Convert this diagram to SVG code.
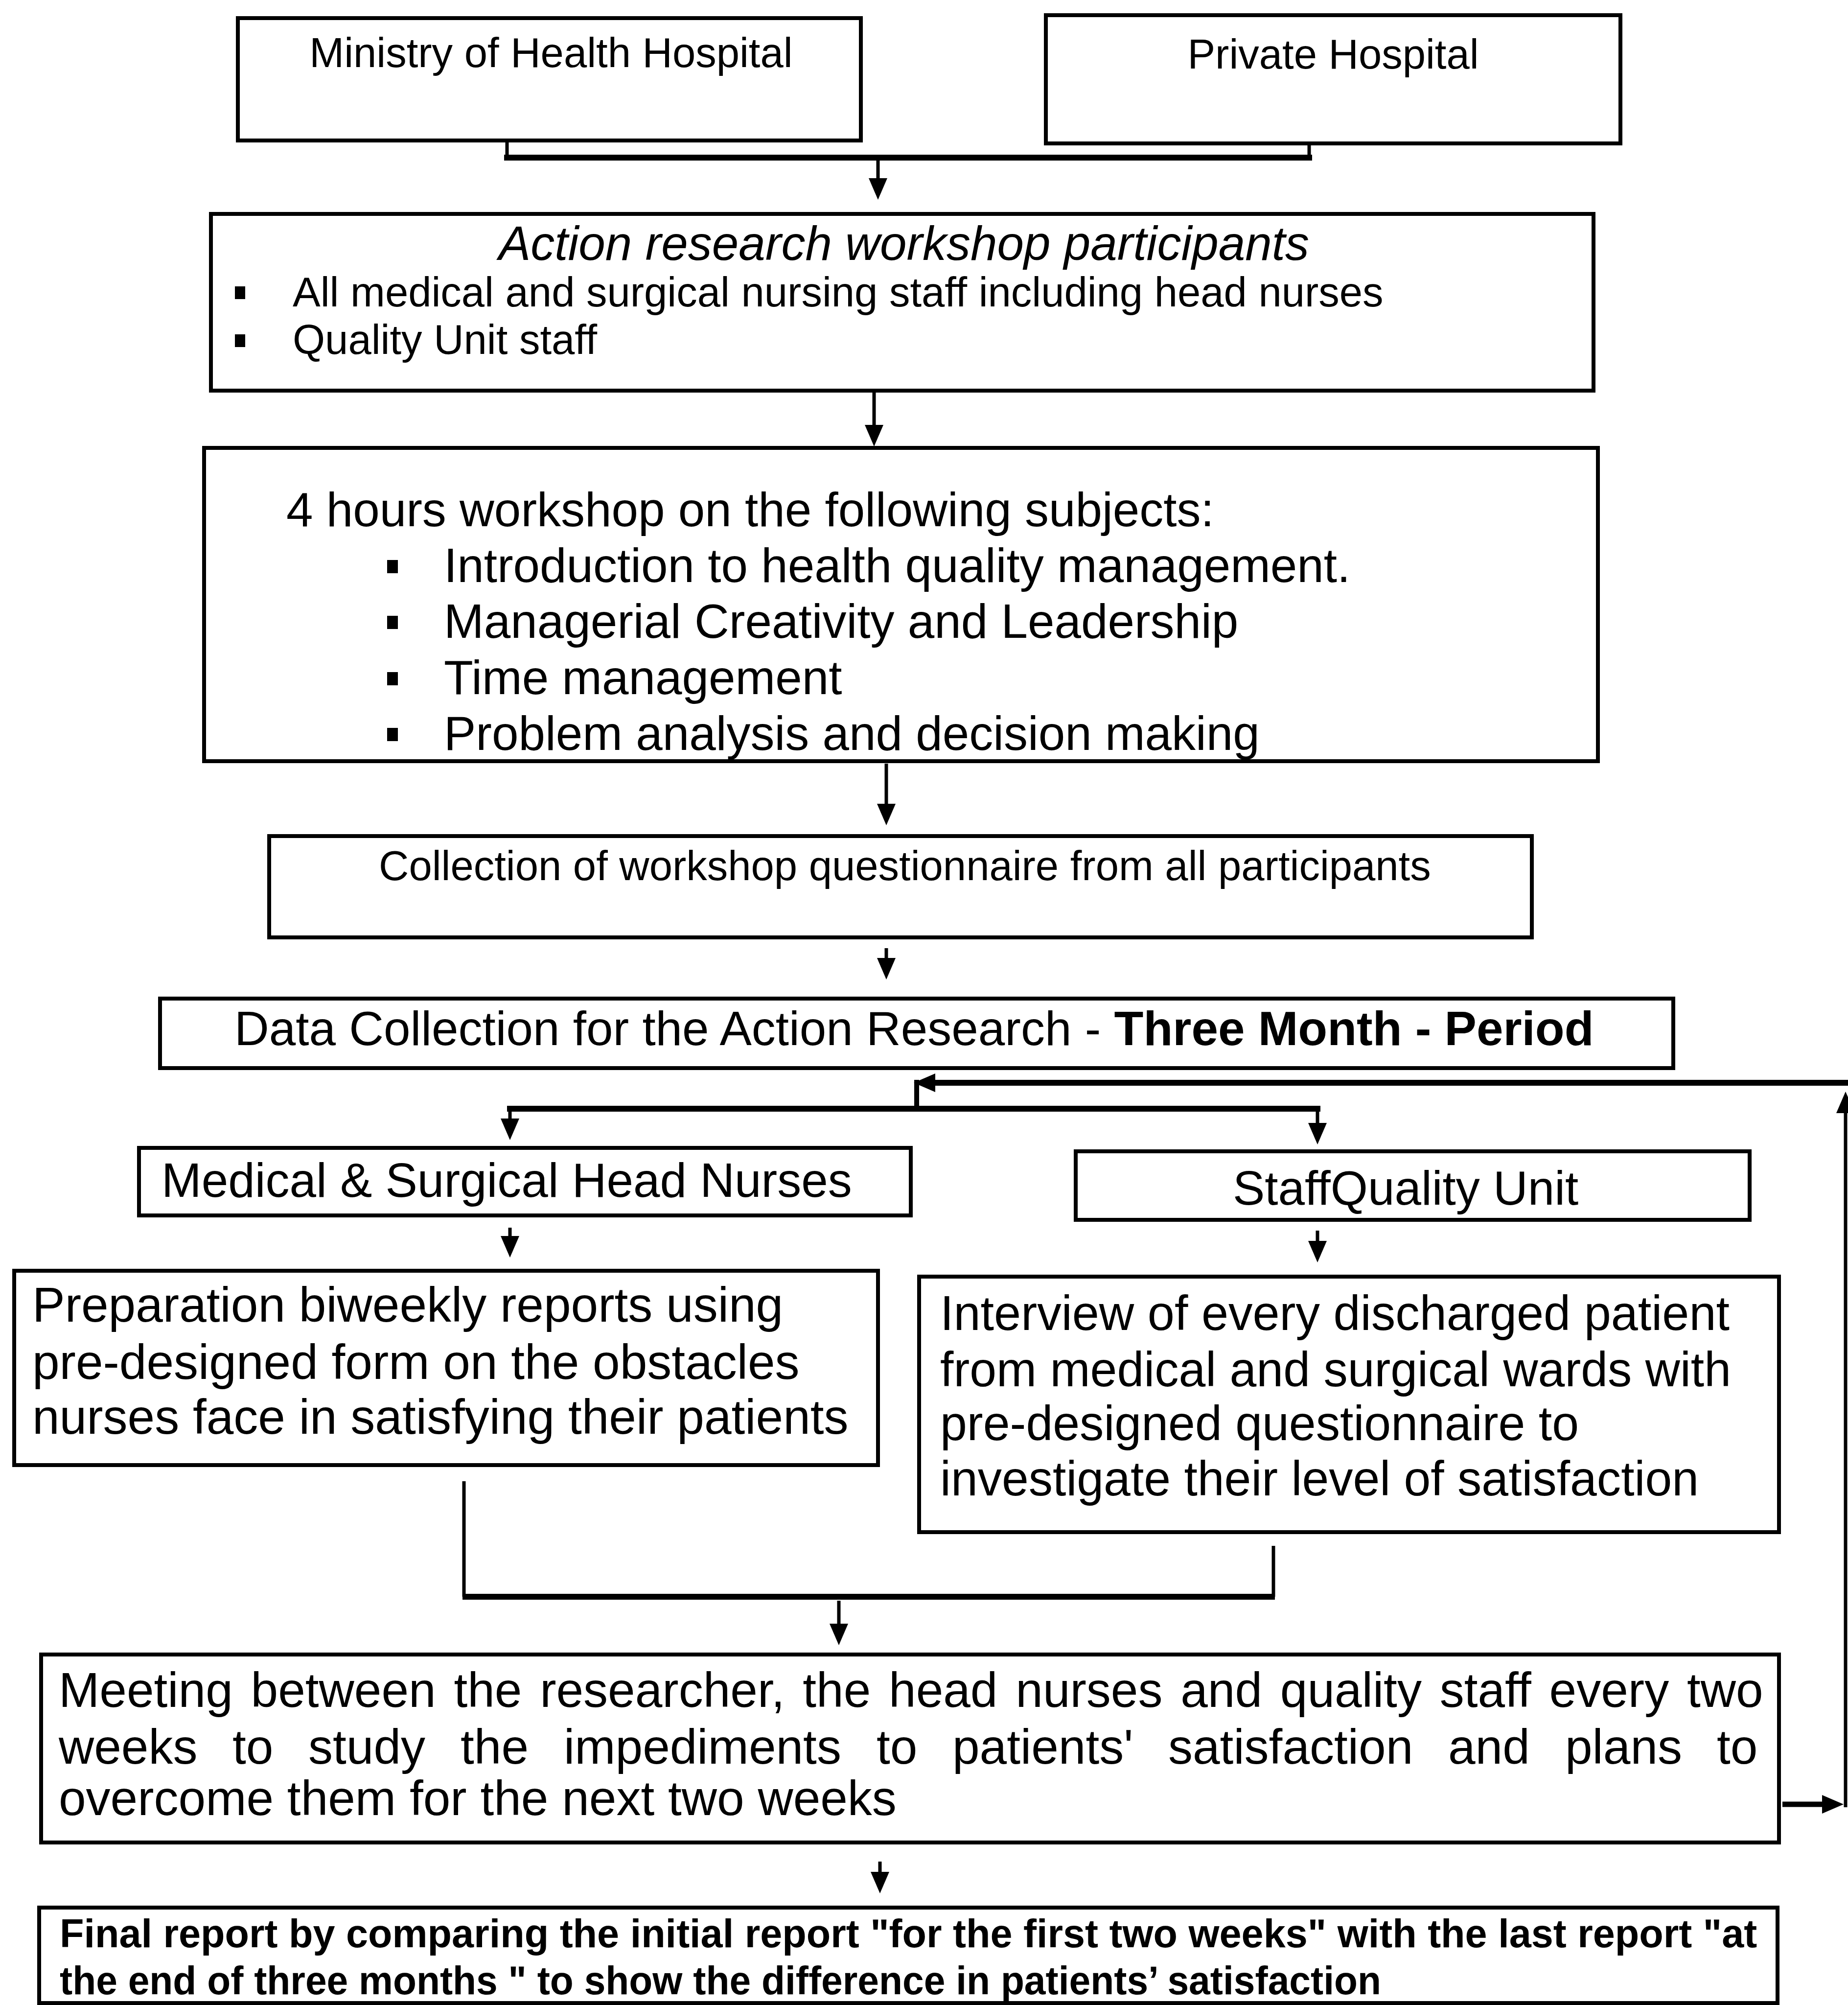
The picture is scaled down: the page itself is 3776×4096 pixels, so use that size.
<svg xmlns="http://www.w3.org/2000/svg" width="3776" height="4096" viewBox="0 0 3776 4096">
<style>
.bg{fill:#fff}
.box{fill:none;stroke:#000;stroke-width:8}
.t{font-family:"Liberation Sans",Arial,Helvetica,sans-serif;fill:#000}
.s85{font-size:85px}
.s98{font-size:98px}
.s100{font-size:100px}
.fb{font-size:81px;font-weight:bold}
.bul{fill:#000}
.v{fill:none;stroke:#000;stroke-width:7}
.h{fill:none;stroke:#000;stroke-width:12}
</style>
<defs>
<marker id="ah" markerUnits="userSpaceOnUse" markerWidth="44" markerHeight="38" refX="24" refY="19" orient="auto" overflow="visible">
<path d="M0,0 L44,19 L0,38 z" fill="#000"/>
</marker>
</defs>
<rect class="bg" x="0" y="0" width="3776" height="4096"/>

<g id="connectors">
<path class="v" d="M1036,287 V322"/>
<path class="v" d="M2675,293 V322"/>
<path class="h" d="M1030,322 H2681"/>
<path class="v" d="M1794,322 V388" marker-end="url(#ah)"/>
<path class="v" d="M1786,798 V892" marker-end="url(#ah)"/>
<path class="v" d="M1811,1560 V1666" marker-end="url(#ah)"/>
<path class="v" d="M1811,1937 V1981" marker-end="url(#ah)"/>
<path class="h" d="M3776,2212 H1887" marker-end="url(#ah)"/>
<path class="v" style="stroke-width:10" d="M1873,2206 V2265"/>
<path class="h" d="M1036,2265 H2698"/>
<path class="v" d="M1042,2265 V2309" marker-end="url(#ah)"/>
<path class="v" d="M2692,2265 V2318" marker-end="url(#ah)"/>
<path class="v" d="M1042,2508 V2549" marker-end="url(#ah)"/>
<path class="v" d="M2692,2514 V2559" marker-end="url(#ah)"/>
<path class="v" d="M948,3026 V3262"/>
<path class="v" d="M2602,3158 V3262"/>
<path class="h" d="M945,3262 H2605"/>
<path class="v" d="M1714,3270 V3341" marker-end="url(#ah)"/>
<path class="v" d="M1798,3803 V3848" marker-end="url(#ah)"/>
<path class="h" style="stroke-width:11" d="M3642,3686 H3747" marker-end="url(#ah)"/>
<path class="v" d="M3771,3692 V2250" marker-end="url(#ah)"/>
</g>

<g id="ministry">
<rect class="box" x="486" y="37" width="1273" height="250"/>
<text class="t s85" x="1126" y="137" text-anchor="middle">Ministry of Health Hospital</text>
</g>

<g id="private">
<rect class="box" x="2137" y="31" width="1174" height="262"/>
<text class="t s85" x="2724" y="140" text-anchor="middle">Private Hospital</text>
</g>

<g id="participants">
<rect class="box" x="431" y="437" width="2825" height="361"/>
<text class="t s98" x="1019" y="531" font-style="italic">Action research workshop participants</text>
<rect class="bul" x="480" y="585" width="21" height="26"/>
<text class="t s85" x="598" y="626">All medical and surgical nursing staff including head nurses</text>
<rect class="bul" x="480" y="683" width="21" height="26"/>
<text class="t s85" x="598" y="723">Quality Unit staff</text>
</g>

<g id="workshop">
<rect class="box" x="417" y="915" width="2848" height="640"/>
<text class="t s98" x="585" y="1075">4 hours workshop on the following subjects:</text>
<rect class="bul" x="791" y="1144" width="22" height="27"/>
<text class="t s98" x="907" y="1189">Introduction to health quality management.</text>
<rect class="bul" x="791" y="1258" width="22" height="27"/>
<text class="t s98" x="907" y="1303">Managerial Creativity and Leadership</text>
<rect class="bul" x="791" y="1373" width="22" height="27"/>
<text class="t s98" x="907" y="1418">Time management</text>
<rect class="bul" x="791" y="1487" width="22" height="27"/>
<text class="t s98" x="907" y="1532">Problem analysis and decision making</text>
</g>

<g id="questionnaire">
<rect class="box" x="550" y="1708" width="2580" height="207"/>
<text class="t s85" x="774" y="1798">Collection of workshop questionnaire from all participants</text>
</g>

<g id="datacollection">
<rect class="box" x="327" y="2040" width="3092" height="142"/>
<text class="t s98" x="479" y="2135">Data Collection for the Action Research - <tspan font-weight="bold">Three Month - Period</tspan></text>
</g>

<g id="headnurses">
<rect class="box" x="284" y="2345" width="1577" height="138"/>
<text class="t s98" x="330" y="2445">Medical &amp; Surgical Head Nurses</text>
</g>

<g id="qualityunit">
<rect class="box" x="2198" y="2352" width="1377" height="140"/>
<text class="t s98" x="2519" y="2461">StaffQuality Unit</text>
</g>

<g id="reports">
<rect class="box" x="29" y="2596" width="1765" height="397"/>
<text class="t s100" x="66" y="2700">Preparation biweekly reports using</text>
<text class="t s100" x="66" y="2817">pre-designed form on the obstacles</text>
<text class="t s100" x="66" y="2929">nurses face in satisfying their patients</text>
</g>

<g id="interview">
<rect class="box" x="1878" y="2608" width="1757" height="522"/>
<text class="t s100" x="1921" y="2717" textLength="1613" lengthAdjust="spacingAndGlyphs">Interview of every discharged patient</text>
<text class="t s100" x="1921" y="2832" textLength="1616" lengthAdjust="spacingAndGlyphs">from medical and surgical wards with</text>
<text class="t s100" x="1921" y="2942" textLength="1305" lengthAdjust="spacingAndGlyphs">pre-designed questionnaire to</text>
<text class="t s100" x="1921" y="3055" textLength="1550" lengthAdjust="spacingAndGlyphs">investigate their level of satisfaction</text>
</g>

<g id="meeting">
<rect class="box" x="84" y="3380" width="3551" height="384"/>
<text class="t s100" x="120" y="3487" word-spacing="9">Meeting between the researcher, the head nurses and quality staff every two</text>
<text class="t s100" y="3603"><tspan x="120">weeks</tspan><tspan x="475">to</tspan><tspan x="630">study</tspan><tspan x="941">the</tspan><tspan x="1152">impediments</tspan><tspan x="1791">to</tspan><tspan x="1946">patients'</tspan><tspan x="2387">satisfaction</tspan><tspan x="2959">and</tspan><tspan x="3198">plans</tspan><tspan x="3508">to</tspan></text>
<text class="t s100" x="120" y="3708">overcome them for the next two weeks</text>
</g>

<g id="finalreport">
<rect class="box" x="80" y="3897" width="3552" height="195"/>
<text class="t fb" x="122" y="3978">Final report by comparing the initial report "for the first two weeks" with the last report "at</text>
<text class="t fb" x="122" y="4074" textLength="2700" lengthAdjust="spacingAndGlyphs">the end of three months " to show the difference in patients’ satisfaction</text>
</g>
</svg>
